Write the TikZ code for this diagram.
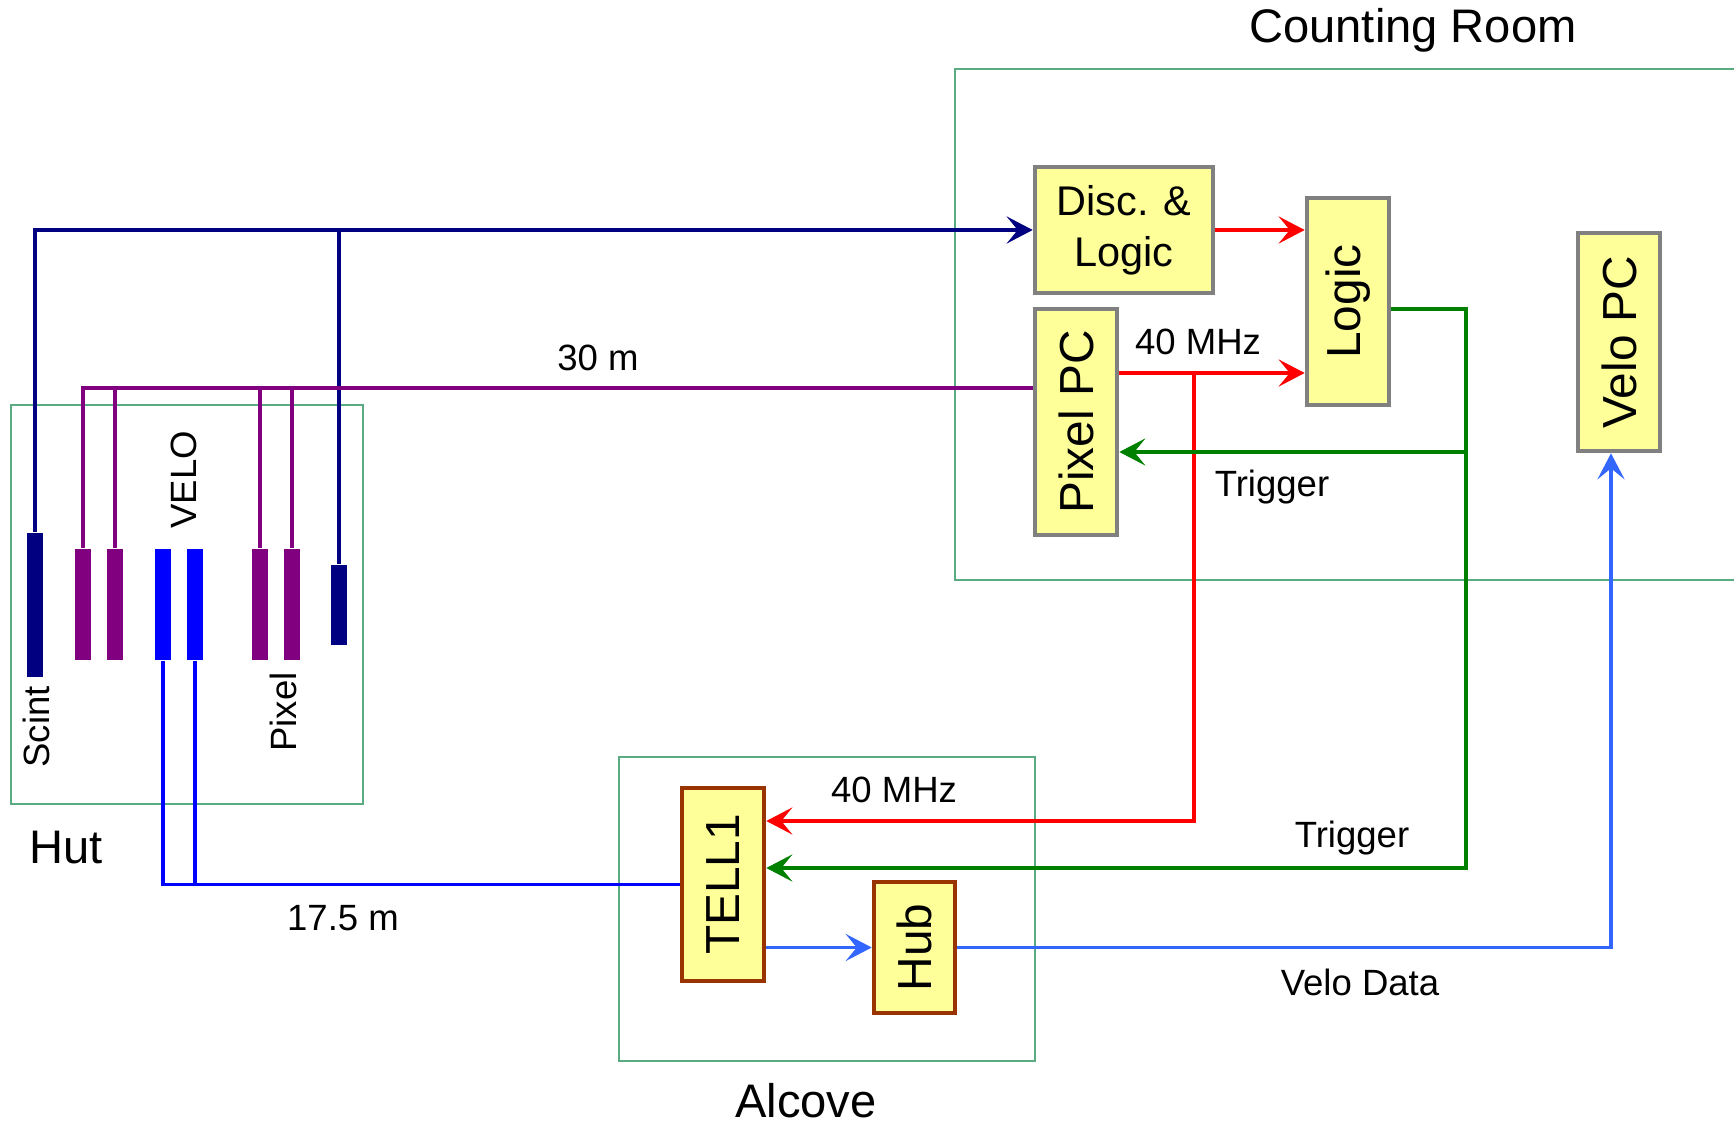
\documentclass[tikz,border=0pt]{standalone}
\usepackage{fontspec}
\setmainfont{Liberation Sans}
\usetikzlibrary{arrows.meta}
\definecolor{frameGreen}{RGB}{90,170,130}
\definecolor{boxYellow}{RGB}{255,255,153}
\definecolor{boxGrey}{RGB}{128,128,128}
\definecolor{boxBrown}{RGB}{153,51,0}
\definecolor{scintNavy}{RGB}{0,0,128}
\definecolor{pixPurple}{RGB}{128,0,128}
\definecolor{veloBlue}{RGB}{0,0,255}
\definecolor{dataBlue}{RGB}{51,102,255}
\definecolor{trigGreen}{RGB}{0,128,0}
\tikzset{
  area outline/.style={draw=frameGreen,line width=0.5pt},
  area label/.style={font=\fontsize{13.4}{16}\selectfont},
  pc box/.style={draw=boxGrey,fill=boxYellow,line width=1.3pt,inner sep=0pt,
    align=center,font=\fontsize{11.8}{14.5}\selectfont},
  upright box/.style={pc box,font=\fontsize{13.6}{16}\selectfont},
  board box/.style={upright box,draw=boxBrown},
  plane/.style={inner sep=0pt,minimum width=1.6mm},
  sig label/.style={font=\fontsize{10.4}{12}\selectfont},
  cable/.style={line width=1.1pt},
  feed/.style={cable,-{Stealth[length=2.6mm,width=2.7mm,inset=1.1mm]}}
}

\begin{document}
\begin{tikzpicture}
  \useasboundingbox (0,0) rectangle (17.34,11.25);

  % areas
  \draw[area outline] (0.11,3.21) rectangle (3.63,7.20);
  \draw[area outline] (17.34,10.56) -- (9.55,10.56) -- (9.55,5.45) -- (17.34,5.45);
  \draw[area outline] (6.19,0.64) rectangle (10.35,3.68);
  \node[area label] (hutlbl) at (0.66,2.77) {Hut};
  \node[area label] (roomlbl) at (14.13,10.95) {Counting Room};
  \node[area label] (alcovelbl) at (8.06,0.24) {Alcove};

  % planes in the hut
  \node[plane,fill=scintNavy,minimum height=1.44cm] (scint) at (0.35,5.20) {};
  \node[plane,fill=pixPurple,minimum height=1.11cm] (pa) at (0.83,5.205) {};
  \node[plane,fill=pixPurple,minimum height=1.11cm] (pb) at (1.15,5.205) {};
  \node[plane,fill=veloBlue,minimum height=1.11cm] (va) at (1.63,5.205) {};
  \node[plane,fill=veloBlue,minimum height=1.11cm] (vb) at (1.95,5.205) {};
  \node[plane,fill=pixPurple,minimum height=1.11cm] (pc) at (2.60,5.205) {};
  \node[plane,fill=pixPurple,minimum height=1.11cm] (pd) at (2.92,5.205) {};
  \node[plane,fill=scintNavy,minimum height=0.80cm] (scintb) at (3.39,5.20) {};
  \node[sig label,rotate=90] (scintlbl) at (0.36,3.98) {Scint};
  \node[sig label,rotate=90] (velolbl) at (1.84,6.45) {VELO};
  \node[sig label,rotate=90] (pixlbl) at (2.83,4.13) {Pixel};

  % counting room
  \node[pc box,minimum width=1.78cm,minimum height=1.26cm] (disc) at (11.24,8.95) {Disc. \&\\Logic};
  \node[upright box,minimum width=0.82cm,minimum height=2.07cm] (logic) at (13.48,8.235) {\rotatebox{90}{Logic}};
  \node[upright box,minimum width=0.82cm,minimum height=2.26cm] (pixpc) at (10.76,7.03) {\rotatebox{90}{Pixel PC}};
  \node[upright box,minimum width=0.82cm,minimum height=2.18cm] (velopc) at (16.19,7.83) {\rotatebox{90}{Velo PC}};

  % alcove
  \node[board box,minimum width=0.82cm,minimum height=1.93cm] (tell) at (7.23,2.405) {\rotatebox{90}{TELL1}};
  \node[board box,minimum width=0.81cm,minimum height=1.31cm] (hub) at (9.145,1.775) {\rotatebox{90}{Hub}};

  % scintillator signals
  \draw[feed,scintNavy] (scint.north) |- (disc.west);
  \draw[cable,scintNavy] (scintb.north) -- (scintb.north |- disc.west);

  % pixel readout, 30 m
  \coordinate (pixin) at ([yshift=3.4mm]pixpc.west);
  \draw[cable,pixPurple] (pa.north) |- (pixin);
  \draw[cable,pixPurple] (pb.north) -- (pb.north |- pixin);
  \draw[cable,pixPurple] (pc.north) -- (pc.north |- pixin);
  \draw[cable,pixPurple] (pd.north) -- (pd.north |- pixin);
  \node[sig label] (longlbl) at (5.98,7.67) {30 m};

  % clock
  \draw[feed,red] (disc.east) -- (logic.west |- disc.east);
  \coordinate (clkout) at ([yshift=4.9mm]pixpc.east);
  \coordinate (clksplit) at (11.94,7.52);
  \draw[feed,red] (clkout) -- (logic.west |- clkout);
  \draw[feed,red] (clksplit) |- ([yshift=6.35mm]tell.east);
  \node[sig label] (clklbla) at (11.98,7.83) {40 MHz};
  \node[sig label] (clklblb) at (8.94,3.35) {40 MHz};

  % trigger
  \coordinate (trigsplit) at (14.66,6.73);
  \draw[feed,trigGreen] ([yshift=-0.75mm]logic.east) -| (trigsplit) |- ([yshift=1.65mm]tell.east);
  \draw[feed,trigGreen] (trigsplit) -- (pixpc.east |- trigsplit);
  \node[sig label] (triglbla) at (12.72,6.38) {Trigger};
  \node[sig label] (triglblb) at (13.52,2.87) {Trigger};

  % velo readout, 17.5 m
  \draw[cable,veloBlue] (va.south) |- (tell.west);
  \draw[cable,veloBlue] (vb.south) -- (vb.south |- tell.west);
  \node[sig label] (shortlbl) at (3.43,2.07) {17.5 m};

  % velo data
  \draw[feed,dataBlue] (tell.east |- hub.west) -- (hub.west);
  \draw[feed,dataBlue] (hub.east) -| ([xshift=-0.8mm]velopc.south);
  \node[sig label] (datalbl) at (13.60,1.43) {Velo Data};
\end{tikzpicture}
\end{document}
